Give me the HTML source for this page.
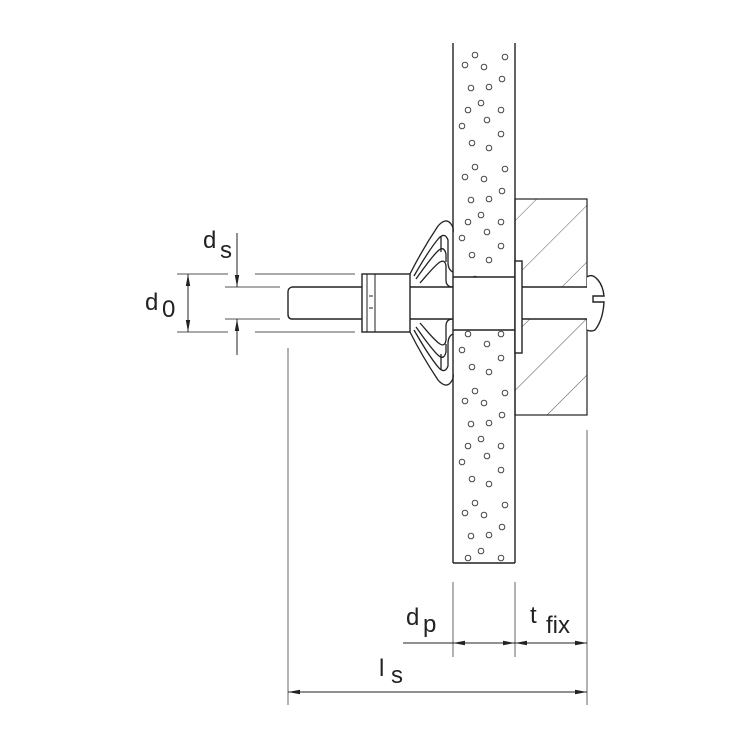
<!DOCTYPE html>
<html><head><style>body{margin:0;background:#fff}svg{display:block}text{font-family:"Liberation Sans",sans-serif;fill:#222}</style></head><body>
<svg width="750" height="750" viewBox="0 0 750 750" xmlns="http://www.w3.org/2000/svg">
<defs>
<pattern id="dots" x="453" y="45" width="62" height="112" patternUnits="userSpaceOnUse">
<g fill="none" stroke="#444" stroke-width="1">
<circle cx="22" cy="10" r="2.8"/><circle cx="12" cy="20" r="2.8"/><circle cx="31" cy="22" r="2.8"/><circle cx="52" cy="12" r="2.8"/>
<circle cx="18" cy="43" r="2.8"/><circle cx="36" cy="42" r="2.8"/><circle cx="49" cy="34" r="2.8"/><circle cx="15" cy="65" r="2.8"/>
<circle cx="28" cy="58" r="2.8"/><circle cx="48" cy="65" r="2.8"/><circle cx="34" cy="75" r="2.8"/><circle cx="9" cy="81" r="2.8"/>
<circle cx="48" cy="89" r="2.8"/><circle cx="19" cy="98" r="2.8"/><circle cx="36" cy="103" r="2.8"/>
</g></pattern>
<pattern id="hatch" x="0" y="0" width="40" height="40" patternUnits="userSpaceOnUse" patternTransform="rotate(45)">
<line x1="0" y1="0" x2="0" y2="40" stroke="#444" stroke-width="0.9"/></pattern>
<marker id="a" viewBox="0 0 12 5" refX="12" refY="2.5" markerWidth="12" markerHeight="5" orient="auto-start-reverse" markerUnits="userSpaceOnUse"><path d="M0,0.3 L12,2.5 L0,4.7Z" fill="#222"/></marker>
</defs>
<g stroke="#222" fill="none" stroke-width="1.4">
<rect x="453" y="43" width="62" height="520" fill="url(#dots)" stroke="none"/>
<rect x="453" y="277" width="62" height="53" fill="#fff" stroke="none"/>
<line x1="453" y1="43" x2="453" y2="563"/><line x1="515" y1="43" x2="515" y2="563"/><line x1="453" y1="563" x2="515" y2="563"/>
<line x1="453" y1="277" x2="515" y2="277"/><line x1="453" y1="330" x2="515" y2="330"/>
<rect x="515" y="199" width="72" height="216" fill="url(#hatch)" stroke-width="1.2"/>
<rect x="522" y="287" width="65" height="32" fill="#fff" stroke="none"/>
<line x1="522" y1="287" x2="587" y2="287"/><line x1="522" y1="319" x2="587" y2="319"/>
<rect x="515" y="261" width="7" height="92" fill="#fff"/>
<path d="M587,277 Q592,273 598,280 Q603,286 604,296 L593,296 L593,302 L604,302 Q603,320 595,330 Q591,332 587,330" fill="#fff"/>
<path d="M362,287 L292,287 Q288,288 288,292 L288,314 Q288,319 292,319 L362,319"/>
<rect x="362" y="274" width="48" height="58" fill="#fff"/>
<line x1="367" y1="274" x2="367" y2="332" stroke-width="1"/><line x1="375" y1="274" x2="375" y2="332" stroke-width="1"/>
<line x1="369" y1="296" x2="373" y2="296" stroke-width="1"/><line x1="369" y1="308" x2="373" y2="308" stroke-width="1"/>
<line x1="410" y1="287" x2="453" y2="287"/><line x1="410" y1="319" x2="453" y2="319"/>
<g stroke-width="1.3">
<g id="w">
<path d="M410,274 C418,258 430,238 438,226 Q446,217 451,224 Q454,228 453,232"/>
<path d="M414,276 C422,262 432,246 439,238 Q445,232 448,240 L448,262 Q448,270 453,272"/>
<path d="M416,279 C424,268 432,256 439,250 Q444,246 446,254 L446,262"/>
<path d="M420,283 C428,274 434,266 440,262 Q445,259 446,266 L446,280 Q446,287 453,287"/>
<path d="M441,252 L441,236"/>
</g>
<use href="#w" transform="translate(0,606) scale(1,-1)"/>
</g>
</g>
<g stroke="#555" stroke-width="0.9" fill="none">
<line x1="177" y1="274" x2="228" y2="274"/><line x1="255" y1="274" x2="355" y2="274"/>
<line x1="177" y1="332" x2="228" y2="332"/><line x1="255" y1="332" x2="355" y2="332"/>
<line x1="225" y1="287" x2="280" y2="287"/><line x1="225" y1="319" x2="280" y2="319"/>
<line x1="288" y1="348" x2="288" y2="705"/>
<line x1="587" y1="430" x2="587" y2="705"/>
<line x1="453" y1="582" x2="453" y2="657"/><line x1="515" y1="582" x2="515" y2="657"/>
</g>
<g stroke="#222" stroke-width="1" fill="none">
<line x1="188" y1="274" x2="188" y2="332" marker-start="url(#a)" marker-end="url(#a)"/>
<line x1="237" y1="233" x2="237" y2="287" marker-end="url(#a)"/>
<line x1="237" y1="355" x2="237" y2="319" marker-end="url(#a)"/>
<line x1="403" y1="643" x2="453" y2="643"/>
<line x1="453" y1="643" x2="515" y2="643" marker-start="url(#a)" marker-end="url(#a)"/>
<line x1="515" y1="643" x2="587" y2="643" marker-start="url(#a)" marker-end="url(#a)"/>
<line x1="288" y1="692" x2="587" y2="692" marker-start="url(#a)" marker-end="url(#a)"/>
</g>
<text x="203" y="248" font-size="24">d</text><text x="220" y="258" font-size="24">s</text>
<text x="145" y="310" font-size="24">d</text><text x="162" y="317" font-size="24">0</text>
<text x="406" y="625" font-size="24">d</text><text x="423" y="632" font-size="24">p</text>
<text x="530" y="623" font-size="24">t</text><text x="546" y="633" font-size="24">fix</text>
<text x="379" y="676" font-size="24">l</text><text x="391" y="683" font-size="24">s</text>
</svg>
</body></html>
